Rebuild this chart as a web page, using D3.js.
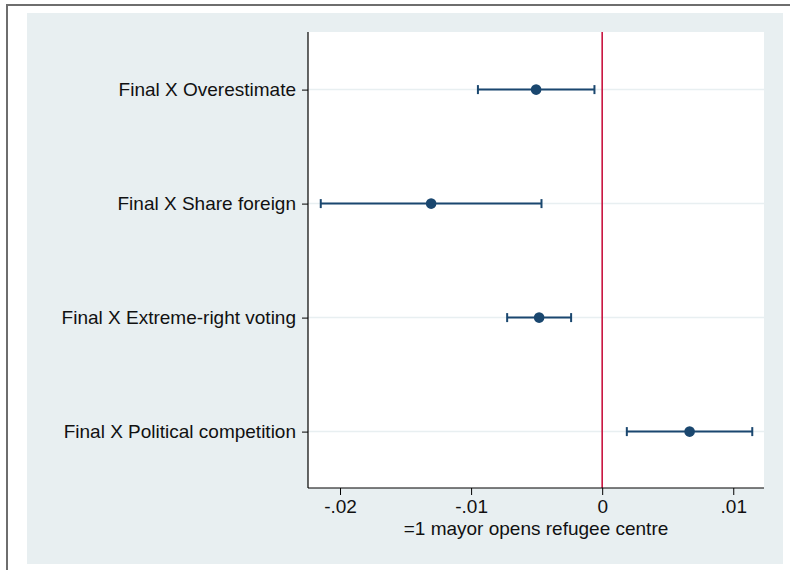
<!DOCTYPE html>
<html><head><meta charset="utf-8">
<script src="https://cdn.jsdelivr.net/npm/d3@7"></script>
<style>body{margin:0;background:#fff}svg{display:block}text{font-family:"Liberation Sans",Arial,sans-serif;fill:#111}</style>
</head><body><svg id="c" width="790" height="570"></svg>
<script>
const categories = ["Final X Overestimate","Final X Share foreign","Final X Extreme-right voting","Final X Political competition"];
const estimates = [-0.00504, -0.01305, -0.00481, 0.00667];
const ciLow = [-0.00948, -0.02147, -0.00725, 0.00188];
const ciHigh = [-0.00059, -0.00463, -0.00237, 0.01145];
const xTicks = [-0.02, -0.01, 0, 0.01];
const xTickLabels = ["-.02", "-.01", "0", ".01"];
const xTitle = "=1 mayor opens refugee centre";

const svg = d3.select("#c");
const navy = "#1a476f", red = "#c8143f", bg = "#e8eff1";
// outer frame
svg.append("rect").attr("x",0).attr("y",0).attr("width",790).attr("height",570).attr("fill","#fff");
svg.append("path").attr("d","M7,570 V5 H790").attr("fill","none").attr("stroke","#6e6e6e").attr("stroke-width",2);
svg.append("rect").attr("x",27).attr("y",13).attr("width",756).attr("height",551).attr("fill",bg);

const plot = {l:308, r:764, t:32, b:488};
svg.append("rect").attr("x",plot.l).attr("y",plot.t).attr("width",plot.r-plot.l).attr("height",plot.b-plot.t).attr("fill","#fff");

const x = d3.scaleLinear().domain([-0.022443, 0.012345]).range([plot.l, plot.r]);
const y = d3.scalePoint().domain(categories).range([plot.t+0.6, plot.b+0.6]).padding(0.5);

// gridlines
svg.append("g").selectAll("line").data(categories).join("line")
  .attr("x1",plot.l).attr("x2",plot.r).attr("y1",d=>y(d)).attr("y2",d=>y(d))
  .attr("stroke",bg).attr("stroke-width",1.5);

// zero line
svg.append("line").attr("x1",x(0)).attr("x2",x(0)).attr("y1",plot.t).attr("y2",plot.b)
  .attr("stroke",red).attr("stroke-width",1.6);

// axes
const fs = 19;
const yAxis = svg.append("g").attr("transform",`translate(${plot.l},0)`)
  .call(d3.axisLeft(y).tickSize(6).tickPadding(6));
yAxis.select(".domain").attr("d",`M0,${plot.t}V${plot.b}`).attr("stroke","#000").attr("stroke-width",1.2);
yAxis.selectAll(".tick line").attr("stroke","#000");
yAxis.selectAll(".tick text").attr("font-size",fs).attr("fill","#111").attr("font-family","Liberation Sans, Arial, sans-serif");

const xAxis = svg.append("g").attr("transform",`translate(0,${plot.b})`)
  .call(d3.axisBottom(x).tickValues(xTicks).tickFormat((d,i)=>xTickLabels[i]).tickSize(7).tickPadding(5));
xAxis.select(".domain").attr("d",`M${plot.l},0H${plot.r}`).attr("stroke","#000").attr("stroke-width",1.2);
xAxis.selectAll(".tick line").attr("stroke","#000");
xAxis.selectAll(".tick text").attr("font-size",fs).attr("fill","#111").attr("font-family","Liberation Sans, Arial, sans-serif");

svg.append("text").attr("x",(plot.l+plot.r)/2).attr("y",535).attr("text-anchor","middle")
  .attr("font-size",fs).text(xTitle);

// CIs
const rows = categories.map((c,i)=>({c, est:estimates[i], lo:ciLow[i], hi:ciHigh[i]}));
const g = svg.append("g");
g.selectAll(".ci").data(rows).join("line")
  .attr("x1",d=>x(d.lo)).attr("x2",d=>x(d.hi)).attr("y1",d=>y(d.c)).attr("y2",d=>y(d.c))
  .attr("stroke",navy).attr("stroke-width",2);
g.selectAll(".capl").data(rows).join("line")
  .attr("x1",d=>x(d.lo)).attr("x2",d=>x(d.lo)).attr("y1",d=>y(d.c)-4.5).attr("y2",d=>y(d.c)+4.5)
  .attr("stroke",navy).attr("stroke-width",2);
g.selectAll(".caph").data(rows).join("line")
  .attr("x1",d=>x(d.hi)).attr("x2",d=>x(d.hi)).attr("y1",d=>y(d.c)-4.5).attr("y2",d=>y(d.c)+4.5)
  .attr("stroke",navy).attr("stroke-width",2);
g.selectAll("circle").data(rows).join("circle")
  .attr("cx",d=>x(d.est)).attr("cy",d=>y(d.c)).attr("r",5.3).attr("fill",navy);
</script></body></html>
